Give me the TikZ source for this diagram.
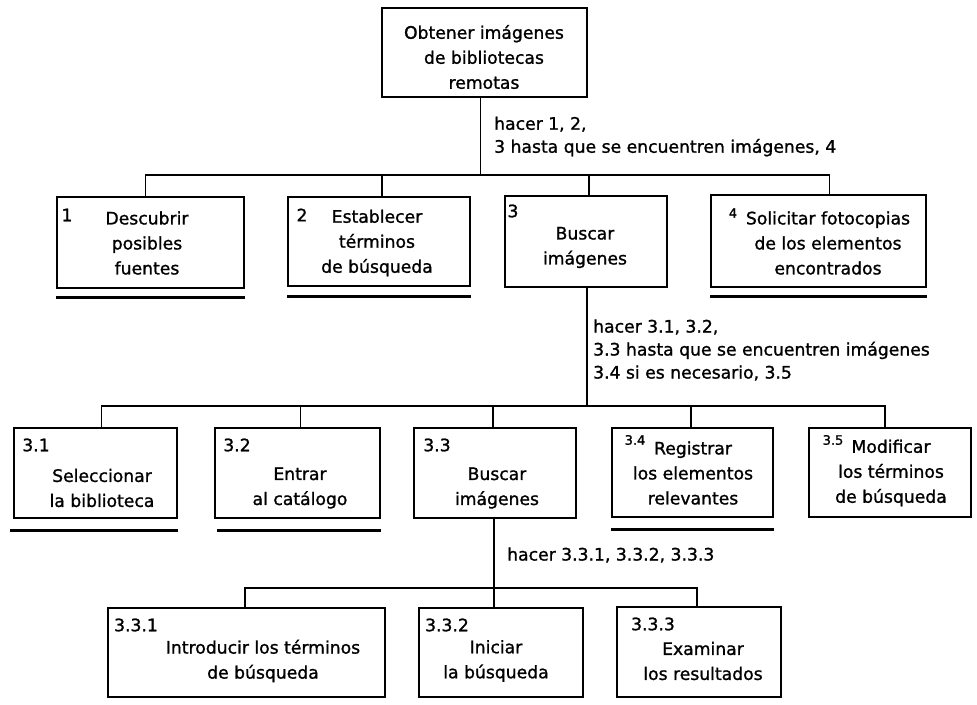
\documentclass[tikz,border=0pt]{standalone}
\usepackage{fontspec}
\setmainfont{DejaVu Sans}[UprightFeatures={FakeBold=1.2}]
\begin{document}
\begin{tikzpicture}[x=1pt,y=-1pt,
  box/.style={draw, line width=2.4pt, inner sep=0pt},
  conn/.style={line width=1.1pt},
  uline/.style={line width=3pt},
  txt/.style={align=center, font=\fontsize{17.2}{25}\selectfont, inner sep=0pt},
  lbl/.style={align=left, font=\fontsize{17.2}{23}\selectfont, inner sep=0pt, anchor=west},
  num/.style={font=\fontsize{17.2}{22}\selectfont, inner sep=0pt},
  snum/.style={font=\fontsize{13}{16}\selectfont, inner sep=0pt},
]
\useasboundingbox (0,0) rectangle (977,704);

% boxes
\node[box, minimum width=204.6pt, minimum height=88.6pt] (top) at (484.5,52.5) {};
\node[box, minimum width=186.6pt, minimum height=90.6pt] (n1) at (150.5,242.5) {};
\node[box, minimum width=181.6pt, minimum height=88.6pt] (n2) at (379,241.5) {};
\node[box, minimum width=161.6pt, minimum height=90.6pt] (n3) at (586,241.5) {};
\node[box, minimum width=214.6pt, minimum height=91.6pt] (n4) at (818.5,241) {};
\node[box, minimum width=162.6pt, minimum height=89.6pt] (n31) at (95.5,473) {};
\node[box, minimum width=164.6pt, minimum height=89.6pt] (n32) at (297.5,473) {};
\node[box, minimum width=161.6pt, minimum height=89.6pt] (n33) at (495,473) {};
\node[box, minimum width=160.6pt, minimum height=88.6pt] (n34) at (692.5,472.5) {};
\node[box, minimum width=161.6pt, minimum height=88.6pt] (n35) at (890,472.5) {};
\node[box, minimum width=276.6pt, minimum height=88.6pt] (n331) at (246.5,652.5) {};
\node[box, minimum width=163.6pt, minimum height=88.6pt] (n332) at (501,652.5) {};
\node[box, minimum width=163.6pt, minimum height=89.6pt] (n333) at (699,652) {};

% texts
\node[txt] (topt) at (484,57) {Obtener imágenes\\de bibliotecas\\remotas};
\node[txt] (n1t) at (147,243) {Descubrir\\posibles\\fuentes};
\node[txt] (n2t) at (377,243) {Establecer\\términos\\de búsqueda};
\node[txt] (n3t) at (585,247.5) {Buscar\\imágenes};
\node[txt] (n4t) at (828,243) {Solicitar fotocopias\\de los elementos\\encontrados};
\node[txt] (n31t) at (102,488) {Seleccionar\\la biblioteca};
\node[txt] (n32t) at (300,488) {Entrar\\al catálogo};
\node[txt] (n33t) at (497,488) {Buscar\\imágenes};
\node[txt] (n34t) at (693,473) {Registrar\\los elementos\\relevantes};
\node[txt] (n35t) at (891,473) {Modificar\\los términos\\de búsqueda};
\node[txt] (n331t) at (263,661) {Introducir los términos\\de búsqueda};
\node[txt] (n332t) at (496,661) {Iniciar\\la búsqueda};
\node[txt] (n333t) at (703,661) {Examinar\\los resultados};

% numbers
\node[num] (n1n) at (67,215) {1};
\node[num] (n2n) at (302,215) {2};
\node[num] (n3n) at (513,211) {3};
\node[snum] (n4n) at (733,213) {4};
\node[num] (n31n) at (36,445) {3.1};
\node[num] (n32n) at (237,445) {3.2};
\node[num] (n33n) at (437,445) {3.3};
\node[snum] (n34n) at (635,440) {3.4};
\node[snum] (n35n) at (833,440) {3.5};
\node[num] (n331n) at (136,625) {3.3.1};
\node[num] (n332n) at (447,625) {3.3.2};
\node[num] (n333n) at (653,624) {3.3.3};

% labels
\node[lbl] (l1) at (494,136.5) {hacer 1, 2,\\3 hasta que se encuentren imágenes, 4};
\node[lbl] (l2) at (593,350) {hacer 3.1, 3.2,\\3.3 hasta que se encuentren imágenes\\3.4 si es necesario, 3.5};
\node[lbl] (l3) at (507,555) {hacer 3.3.1, 3.3.2, 3.3.3};

% connectors
\coordinate (bar1) at (0,175);
\coordinate (bar2) at (0,406);
\coordinate (bar3) at (0,588);
\draw[conn] ([xshift=-4pt]top.south) -- ([xshift=-4pt]top.south |- bar1);
\draw[conn] ([xshift=-5pt]n1.north) |- ([xshift=11pt]n4.north |- bar1) -- ([xshift=11pt]n4.north);
\draw[conn] ([xshift=3pt]n2.north) -- ([xshift=3pt]n2.north |- bar1);
\draw[conn] ([xshift=3pt]n3.north) -- ([xshift=3pt]n3.north |- bar1);

\draw[conn] ([xshift=1pt]n3.south) -- ([xshift=1pt]n3.south |- bar2);
\draw[conn] ([xshift=6pt]n31.north) |- ([xshift=-5pt]n35.north |- bar2) -- ([xshift=-5pt]n35.north);
\draw[conn] ([xshift=3pt]n32.north) -- ([xshift=3pt]n32.north |- bar2);
\draw[conn] ([xshift=-2pt]n33.north) -- ([xshift=-2pt]n33.north |- bar2);
\draw[conn] ([xshift=-1.5pt]n34.north) -- ([xshift=-1.5pt]n34.north |- bar2);

\draw[conn] ([xshift=-1pt]n33.south) -- ([xshift=-7pt]n332.north);
\draw[conn] ([xshift=-1.5pt]n331.north) |- ([xshift=-2pt]n333.north |- bar3) -- ([xshift=-2pt]n333.north);

% underlines
\draw[uline] ([yshift=-8.2pt]n1.south west) -- ([yshift=-8.2pt]n1.south east);
\draw[uline] ([yshift=-9.2pt]n2.south west) -- ([yshift=-9.2pt]n2.south east);
\draw[uline] ([yshift=-8.2pt]n4.south west) -- ([yshift=-8.2pt]n4.south east);
\draw[uline] ([yshift=-11.7pt,xshift=-3pt]n31.south west) -- ([yshift=-11.7pt]n31.south east);
\draw[uline] ([yshift=-11.7pt,xshift=3pt]n32.south west) -- ([yshift=-11.7pt]n32.south east);
\draw[uline] ([yshift=-11.7pt]n34.south west) -- ([yshift=-11.7pt]n34.south east);
\end{tikzpicture}
\end{document}
